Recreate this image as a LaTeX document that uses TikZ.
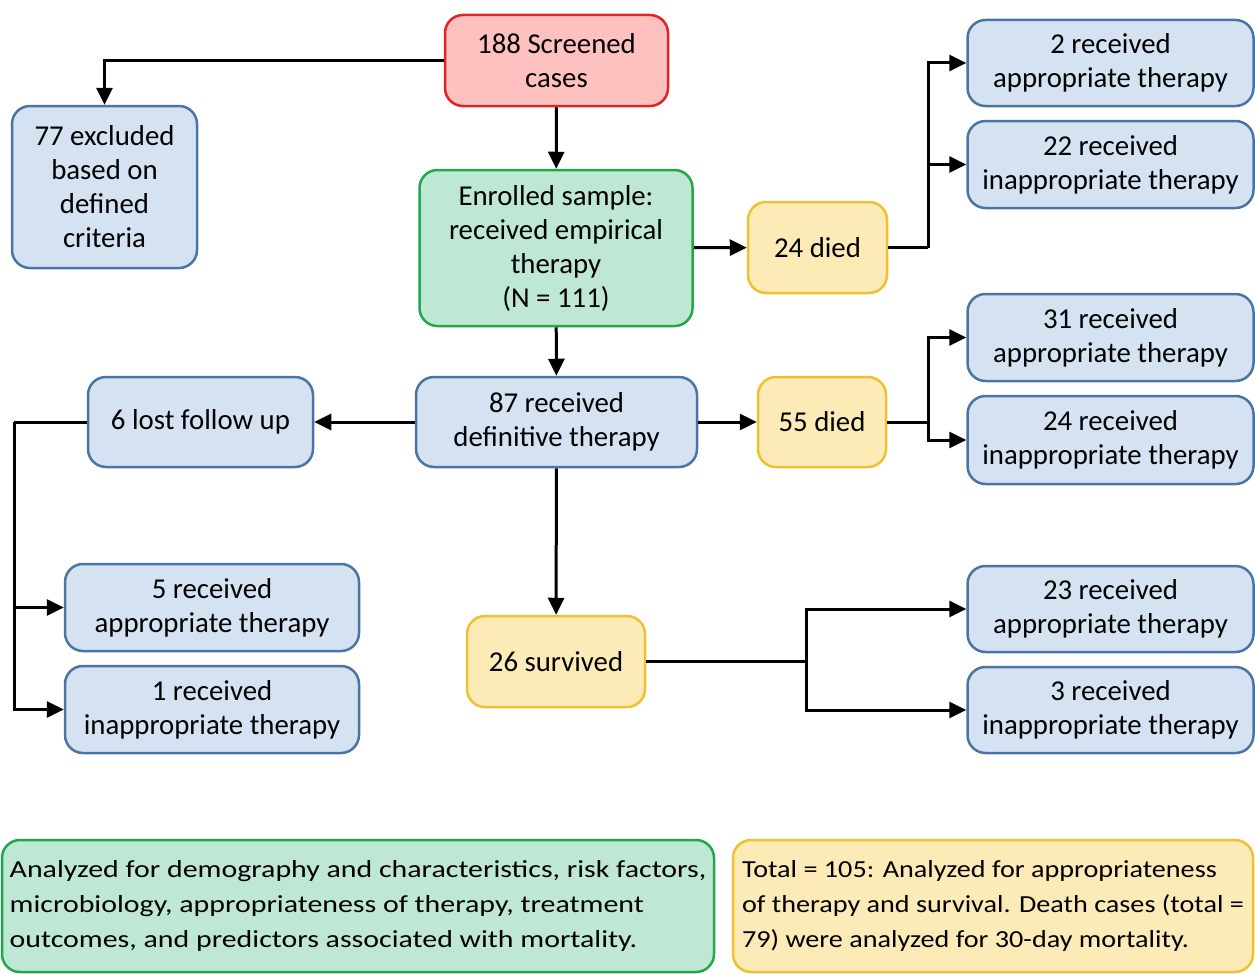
\documentclass[tikz,border=0pt]{standalone}
\usepackage{fontspec}
\setmainfont{Carlito}
\newfontfamily\greenfont[FakeStretch=1.22]{Carlito}
\newfontfamily\yellowfont[FakeStretch=1.15]{Carlito}
\usetikzlibrary{arrows.meta}
\definecolor{bfill}{HTML}{D4E2F2}
\definecolor{bdraw}{HTML}{4A75A3}
\definecolor{rfill}{HTML}{FFC0C0}
\definecolor{rdraw}{HTML}{E02424}
\definecolor{gfill}{HTML}{BEE8D3}
\definecolor{gdraw}{HTML}{22A84A}
\definecolor{yfill}{HTML}{FCEBB6}
\definecolor{ydraw}{HTML}{F0C030}
\tikzset{
  box/.style={rectangle, rounded corners=18pt, line width=2.5pt, inner sep=0pt,
    align=center, font=\fontsize{28.8}{34}\selectfont, text=black},
  bluebox/.style={box, fill=bfill, draw=bdraw},
  redbox/.style={box, fill=rfill, draw=rdraw},
  greenbox/.style={box, fill=gfill, draw=gdraw},
  yellowbox/.style={box, fill=yfill, draw=ydraw},
  conn/.style={line width=3pt, black},
  arr/.style={conn, -{Triangle[length=17pt,width=16pt]}},
}
\begin{document}
\begin{tikzpicture}[x=1pt,y=-1pt]
\useasboundingbox (0,0) rectangle (1255,974);
% main column
\node[redbox, minimum width=223pt, minimum height=91pt] (scr) at (556.5,60.5) {188 Screened\\cases};
\node[bluebox, minimum width=185pt, minimum height=162pt] (exc) at (104.5,187) {77 excluded\\based on\\defined\\criteria};
\node[greenbox, minimum width=273pt, minimum height=156pt] (enr) at (556,248) {Enrolled sample:\\received empirical\\therapy\\(N = 111)};
\node[yellowbox, minimum width=139pt, minimum height=91pt] (d24) at (817.5,247.5) {24 died};
\node[bluebox, minimum width=286pt, minimum height=86pt] (a2) at (1110.5,63) {2 received\\appropriate therapy};
\node[bluebox, minimum width=286pt, minimum height=87pt] (i22) at (1110.5,164.5) {22 received\\inappropriate therapy};
\node[bluebox, minimum width=281pt, minimum height=90pt] (def) at (556.5,422) {87 received\\definitive therapy};
\node[bluebox, minimum width=225pt, minimum height=90pt] (lost) at (200.5,422) {6 lost follow up};
\node[yellowbox, minimum width=128pt, minimum height=90pt] (d55) at (822,422) {55 died};
\node[bluebox, minimum width=286pt, minimum height=87pt] (a31) at (1110.5,337.5) {31 received\\appropriate therapy};
\node[bluebox, minimum width=286pt, minimum height=88pt] (i24) at (1110.5,440) {24 received\\inappropriate therapy};
\node[bluebox, minimum width=294pt, minimum height=87pt] (a5) at (212,607.5) {5 received\\appropriate therapy};
\node[bluebox, minimum width=294pt, minimum height=87pt] (i1) at (212,709.5) {1 received\\inappropriate therapy};
\node[yellowbox, minimum width=178pt, minimum height=91pt] (surv) at (556,661.5) {26 survived};
\node[bluebox, minimum width=286pt, minimum height=86pt] (a23) at (1110.5,609) {23 received\\appropriate therapy};
\node[bluebox, minimum width=286pt, minimum height=86pt] (i3) at (1110.5,710) {3 received\\inappropriate therapy};
% bottom notes
\node[greenbox, minimum width=712pt, minimum height=132pt, align=left, font=\greenfont\fontsize{24.5}{35}\selectfont] (noteg) at (358,906)
  {Analyzed for demography and characteristics, risk factors,\\microbiology, appropriateness of therapy, treatment\\outcomes, and predictors associated with mortality.};
\node[yellowbox, minimum width=520pt, minimum height=132pt, align=left, font=\yellowfont\fontsize{24.5}{35}\selectfont] (notey) at (993,906)
  {Total = 105: Analyzed for appropriateness\\of therapy and survival. Death cases (total =\\79) were analyzed for 30-day mortality.};
% junctions
\coordinate (j1) at (928,247.5);
\coordinate (j2) at (928,422);
\coordinate (j3) at (14,422);
\coordinate (j4) at (806,661.5);
% connectors
\draw[arr] (scr.west) -| (exc.north);
\draw[arr] (scr) -- (enr);
\draw[arr] (enr) -- (d24);
\draw[conn] (d24.east) -- (j1);
\draw[arr] (j1) |- (a2);
\draw[arr] (j1) |- (i22);
\draw[arr] (enr) -- (def);
\draw[arr] (def) -- (lost);
\draw[arr] (def) -- (d55);
\draw[conn] (d55.east) -- (j2);
\draw[arr] (j2) |- (a31);
\draw[arr] (j2) |- (i24);
\draw[conn] (lost.west) -- (j3);
\draw[arr] (j3) |- (a5);
\draw[arr] (j3) |- (i1);
\draw[arr] (def) -- (surv);
\draw[conn] (surv.east) -- (j4);
\draw[arr] (j4) |- (a23);
\draw[arr] (j4) |- (i3);
\end{tikzpicture}
\end{document}
